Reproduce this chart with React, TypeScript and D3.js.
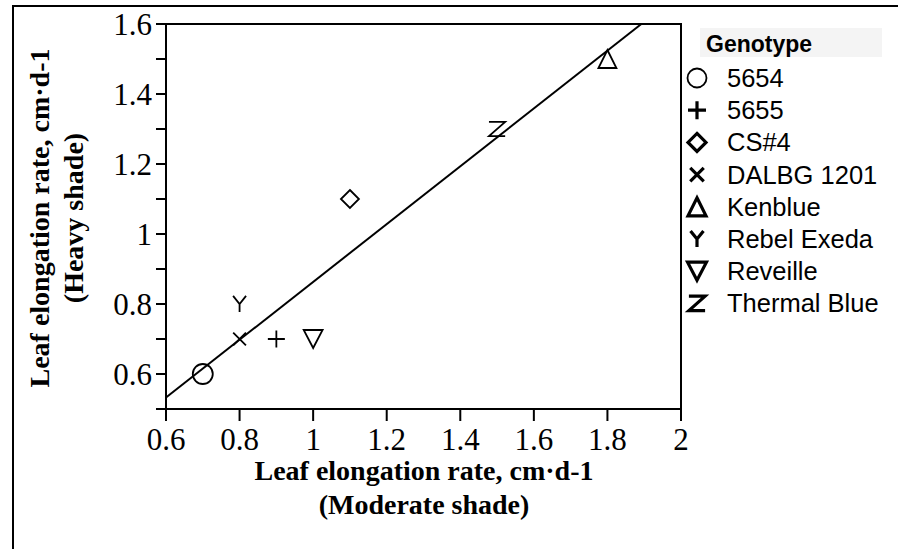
import React from "react";
import * as d3 from "d3";

const genotypes = ["5654", "5655", "CS#4", "DALBG 1201", "Kenblue", "Rebel Exeda", "Reveille", "Thermal Blue"];
const moderateShade = [0.7, 0.9, 1.1, 0.8, 1.8, 0.8, 1.0, 1.5];
const heavyShade = [0.6, 0.7, 1.1, 0.7, 1.5, 0.8, 0.7, 1.3];
const markerTypes = ["circle", "plus", "diamond", "x", "triangle", "Y", "triangleDown", "Z"];
const xTicks = [0.6, 0.8, 1.0, 1.2, 1.4, 1.6, 1.8, 2.0];
const yTicks = [0.5, 0.6, 0.7, 0.8, 0.9, 1.0, 1.1, 1.2, 1.3, 1.4, 1.5, 1.6];
const yLabeled = [0.6, 0.8, 1.0, 1.2, 1.4, 1.6];

const W = 898, H = 549;
const left = 166, right = 681, top = 24, bottom = 409;
const serif = "'Liberation Serif', 'Times New Roman', serif";
const sans = "'Liberation Sans', Arial, sans-serif";

function markerPath(type: string, s: number): string {
  const p = d3.path();
  switch (type) {
    case "circle":
      p.arc(0, 0, s, 0, Math.PI * 2);
      break;
    case "plus":
      p.moveTo(-s, 0); p.lineTo(s, 0); p.moveTo(0, -s); p.lineTo(0, s);
      break;
    case "diamond":
      p.moveTo(0, -s); p.lineTo(s, 0); p.lineTo(0, s); p.lineTo(-s, 0); p.closePath();
      break;
    case "x": {
      const a = s * 0.75;
      p.moveTo(-a, -a); p.lineTo(a, a); p.moveTo(a, -a); p.lineTo(-a, a);
      break;
    }
    case "triangle":
      p.moveTo(0, -s); p.lineTo(s, s); p.lineTo(-s, s); p.closePath();
      break;
    case "triangleDown":
      p.moveTo(0, s); p.lineTo(s * 1.05, -s); p.lineTo(-s * 1.05, -s); p.closePath();
      break;
    case "Y": {
      const a = s * 0.72;
      p.moveTo(-a, -s * 0.9); p.lineTo(0, 0); p.lineTo(a, -s * 0.9);
      p.moveTo(0, 0); p.lineTo(0, s * 0.9);
      break;
    }
    case "Z": {
      const a = s * 0.9;
      p.moveTo(-a, -s * 0.8); p.lineTo(a, -s * 0.8); p.lineTo(-a, s * 0.8); p.lineTo(a, s * 0.8);
      break;
    }
  }
  return p.toString();
}

export default function App() {
  const x = d3.scaleLinear().domain([0.6, 2.0]).range([left, right]);
  const y = d3.scaleLinear().domain([0.5, 1.6]).range([bottom, top]);

  // least-squares fit through the points
  const mx = d3.mean(moderateShade)!;
  const my = d3.mean(heavyShade)!;
  const sxy = d3.sum(moderateShade, (v, i) => (v - mx) * (heavyShade[i] - my));
  const sxx = d3.sum(moderateShade, (v) => (v - mx) ** 2);
  const slope = sxy / sxx;
  const intercept = my - slope * mx;
  const x0 = 0.6;
  const x1 = Math.min(2.0, (1.6 - intercept) / slope);
  const fitLine = d3.line<number>().x((v) => x(v)).y((v) => y(intercept + slope * v))([x0, x1]);

  const legendX = 697;
  const legendY0 = 78;
  const legendStep = 32.2;

  return (
    <svg width={W} height={H} style={{ position: "absolute", left: 0, top: 0, background: "#fff" }}>
      <rect x={0} y={0} width={W} height={H} fill="#fff" />
      {/* outer border */}
      <path d={`M13,${H} L13,6 L${W},6`} fill="none" stroke="#000" strokeWidth={2} />

      {/* plot frame */}
      <rect x={left} y={top} width={right - left} height={bottom - top} fill="none" stroke="#000" strokeWidth={2} />

      {/* x ticks */}
      {xTicks.map((t) => (
        <g key={"xt" + t}>
          <line x1={x(t)} x2={x(t)} y1={bottom} y2={bottom + 12} stroke="#000" strokeWidth={2} />
          <text x={x(t)} y={450} textAnchor="middle" fontFamily={serif} fontSize={31}>
            {d3.format("~g")(t)}
          </text>
        </g>
      ))}
      {/* y ticks */}
      {yTicks.map((t) => (
        <line key={"yt" + t} x1={left - 10} x2={left} y1={y(t)} y2={y(t)} stroke="#000" strokeWidth={2} />
      ))}
      {yLabeled.map((t) => (
        <text key={"yl" + t} x={left - 14} y={y(t) + 10.5} textAnchor="end" fontFamily={serif} fontSize={31}>
          {d3.format("~g")(t)}
        </text>
      ))}

      {/* axis titles */}
      <text x={424} y={480} textAnchor="middle" fontFamily={serif} fontSize={28} fontWeight="bold">
        Leaf elongation rate, cm·d-1
      </text>
      <text x={424} y={514} textAnchor="middle" fontFamily={serif} fontSize={28} fontWeight="bold">
        (Moderate shade)
      </text>
      <g transform="translate(49,218) rotate(-90)">
        <text x={0} y={0} textAnchor="middle" fontFamily={serif} fontSize={28} fontWeight="bold">
          Leaf elongation rate, cm·d-1
        </text>
        <text x={0} y={34} textAnchor="middle" fontFamily={serif} fontSize={28} fontWeight="bold">
          (Heavy shade)
        </text>
      </g>

      {/* fit line */}
      <path d={fitLine!} fill="none" stroke="#000" strokeWidth={2} />

      {/* points */}
      {genotypes.map((g, i) => {
        const t = markerTypes[i];
        const s = t === "circle" ? 10 : t === "plus" ? 8.5 : t === "x" ? 8.5 : 9;
        return (
          <path
            key={"pt" + g}
            d={markerPath(t, s)}
            transform={`translate(${x(moderateShade[i])},${y(heavyShade[i])})`}
            fill="none"
            stroke="#000"
            strokeWidth={1.8}
          />
        );
      })}

      {/* legend */}
      <rect x={700} y={28} width={182} height={29} fill="#f4f4f4" />
      <text x={706} y={52} fontFamily={sans} fontSize={23} fontWeight="bold">
        Genotype
      </text>
      {genotypes.map((g, i) => {
        const cy = legendY0 + i * legendStep;
        const t = markerTypes[i];
        return (
          <g key={"lg" + g}>
            <path
              d={markerPath(t, t === "circle" ? 9.5 : 9)}
              transform={`translate(${legendX},${cy})`}
              fill="none"
              stroke="#000"
              strokeWidth={t === "circle" ? 1.8 : 3.2}
            />
            <text x={727} y={cy + 9} fontFamily={sans} fontSize={25.5}>
              {g}
            </text>
          </g>
        );
      })}
    </svg>
  );
}
